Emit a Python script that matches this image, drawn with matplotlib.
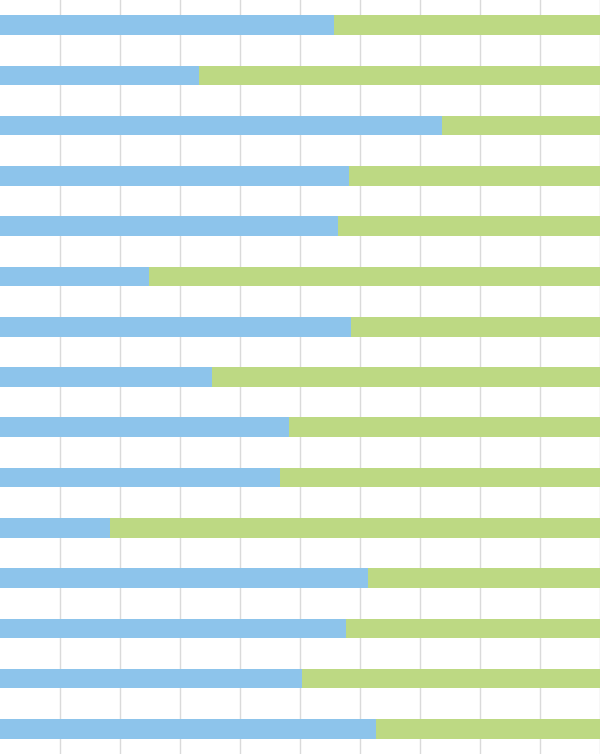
import numpy as np
import matplotlib
matplotlib.use('Agg')
import matplotlib.pyplot as plt

# share of each row (percent), top to bottom
rows = list(range(1, 16))
blue_share = [55.6, 33.1, 73.7, 58.2, 56.4, 24.9, 58.5, 35.4, 48.1, 46.7, 18.3, 61.4, 57.6, 50.3, 62.7]
green_share = [100 - b for b in blue_share]

blue = '#8DC4EB'
green = '#BDD983'

fig = plt.figure(figsize=(6.0, 7.54), dpi=100)
ax = fig.add_axes([0, 0, 1, 1])

y = np.arange(len(rows))
ax.barh(y, blue_share, height=0.39, color=blue, zorder=2)
ax.barh(y, green_share, left=blue_share, height=0.39, color=green, zorder=2)

# vertical gridlines every 10% (none at the left edge)
ax.set_xlim(0, 100)
ax.set_ylim(len(rows) - 0.5, -0.5)
ax.set_xticks(np.arange(10, 101, 10))
ax.xaxis.grid(True, color='#DADADA', linewidth=1.0, zorder=0)
ax.set_axisbelow(True)
ax.tick_params(left=False, bottom=False, labelleft=False, labelbottom=False)
for s in ax.spines.values():
    s.set_visible(False)

fig.savefig('out.png', dpi=100)
